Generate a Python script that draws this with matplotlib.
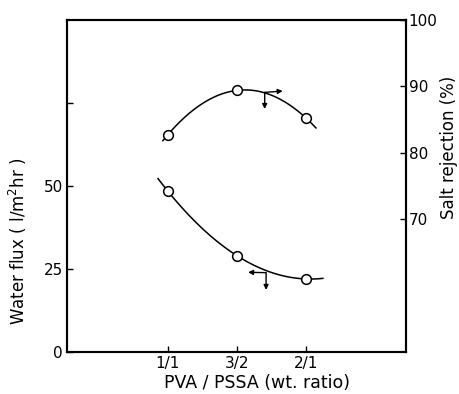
import numpy as np
import matplotlib
matplotlib.use("Agg")
import matplotlib.pyplot as plt

# Data
ratio_labels = ["1/1", "3/2", "2/1"]
ratio_pos = [1.0, 1.5, 2.0]
water_flux = [48.5, 29.0, 22.0]
salt_rejection = [82.7, 89.4, 85.2]

plt.rcParams['font.family'] = ['DejaVu Sans']

fig = plt.figure(figsize=(4.59, 3.94), dpi=100)
ax = fig.add_axes([67 / 459, 1 - 352 / 394, 339 / 459, 332 / 394])
ax2 = ax.twinx()

# smooth quadratic fits through the points
flux_fit = np.polyfit(ratio_pos, water_flux, 2)
salt_fit = np.polyfit(ratio_pos, salt_rejection, 2)
xf = np.linspace(0.93, 2.12, 100)
xs = np.linspace(0.965, 2.07, 100)
ax.plot(xf, np.polyval(flux_fit, xf), color='black', lw=1.1)
ax2.plot(xs, np.polyval(salt_fit, xs), color='black', lw=1.1)
ax.plot(ratio_pos, water_flux, 'o', mfc='white', mec='black', ms=7, mew=1.1)
ax2.plot(ratio_pos, salt_rejection, 'o', mfc='white', mec='black', ms=7, mew=1.1)

# arrows showing which axis each curve uses
arr = dict(arrowstyle='-|>', color='black', lw=1.0, mutation_scale=7, shrinkA=0, shrinkB=0)
ax2.annotate('', xy=(1.83, 89.3), xytext=(1.70, 89.1), arrowprops=arr)
ax2.annotate('', xy=(1.70, 86.6), xytext=(1.70, 89.1), arrowprops=arr)
ax.annotate('', xy=(1.58, 24.0), xytext=(1.71, 23.9), arrowprops=arr)
ax.annotate('', xy=(1.71, 18.7), xytext=(1.71, 23.9), arrowprops=arr)

ax.set_xlim(0.273, 2.72)
ax.set_ylim(0, 100)
ax2.set_ylim(50, 100)

ax.set_xticks(ratio_pos)
ax.set_xticklabels(ratio_labels)
ax.set_yticks([0, 25, 50, 75])
ax.set_yticklabels(["0", "25", "50", ""])
ax2.set_yticks([70, 80, 90, 100])

ax.tick_params(direction='in', length=4, width=1.0, labelsize=11, pad=3)
ax2.tick_params(direction='in', length=4, width=1.0, labelsize=11, pad=2)

for a in (ax, ax2):
    for s in a.spines.values():
        s.set_linewidth(1.5)

ax.set_xlabel("PVA / PSSA (wt. ratio)", fontsize=12.5)
ax.set_ylabel("Water flux ( l/m$^2$hr )", fontsize=12)
ax2.set_ylabel("Salt rejection (%)", fontsize=12)
ax.xaxis.set_label_coords(0.56, -0.066)
ax.yaxis.set_label_coords(-0.113, 0.334)
ax2.yaxis.set_label_coords(1.100, 0.617)

fig.savefig("out.png", dpi=100)
